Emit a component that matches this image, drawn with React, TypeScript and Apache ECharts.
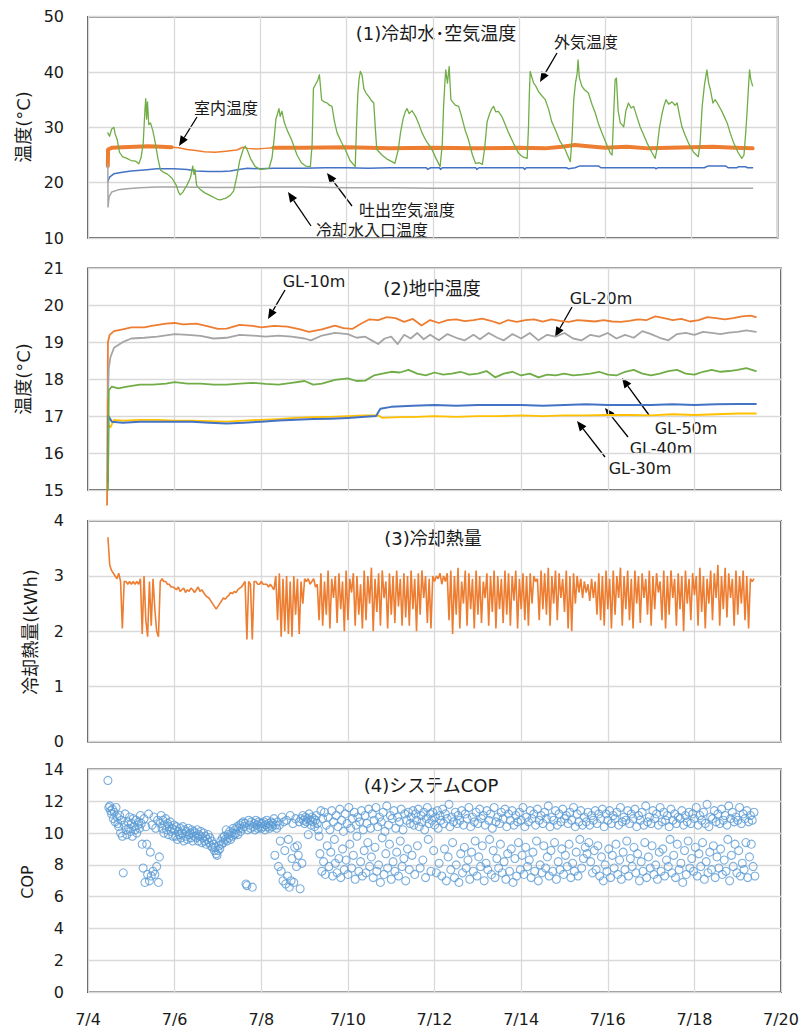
import React, { useEffect, useRef } from "react";
import * as echarts from "echarts";

// ---------- DATA (time = days since 7/4 0:00) ----------
const xTickStartDay = 4; // label = 7/(4 + value)

// Panel 1: 冷却水・空気温度
const outdoorTemp: [number, number][] = [
  [0.46, 29.0], [0.5, 28.4], [0.55, 29.7], [0.6, 30.0], [0.63, 28.8], [0.68, 27.7], [0.73, 25.5], [0.8, 24.7],
  [0.9, 24.4], [1.0, 24.0], [1.1, 23.9], [1.18, 23.4], [1.23, 24.5], [1.28, 27.0], [1.32, 33.0], [1.34, 35.2],
  [1.36, 31.5], [1.38, 34.6], [1.41, 30.5], [1.45, 30.8], [1.5, 29.5], [1.55, 27.7], [1.62, 24.5], [1.68, 22.3],
  [1.75, 21.9], [1.85, 21.5], [1.95, 20.8], [2.05, 19.5], [2.1, 18.3], [2.14, 17.8], [2.2, 18.3], [2.3, 19.6],
  [2.38, 21.0], [2.43, 23.0], [2.46, 21.5], [2.48, 22.4], [2.52, 19.5], [2.6, 18.8], [2.7, 18.2], [2.85, 17.6],
  [3.0, 17.0], [3.07, 16.9], [3.2, 17.2], [3.3, 17.7], [3.38, 18.5], [3.45, 21.0], [3.52, 24.0], [3.6, 26.0],
  [3.65, 26.6], [3.7, 25.8], [3.78, 24.2], [3.88, 22.9], [4.0, 22.4], [4.1, 22.5], [4.2, 22.6], [4.27, 24.5],
  [4.32, 28.0], [4.36, 31.5], [4.4, 32.5], [4.43, 33.4], [4.46, 32.0], [4.5, 32.9], [4.55, 31.0], [4.62, 29.5],
  [4.72, 27.8], [4.85, 25.0], [4.95, 23.6], [5.05, 23.0], [5.16, 22.9], [5.2, 27.0], [5.23, 37.0], [5.28, 37.8],
  [5.33, 38.5], [5.37, 39.5], [5.42, 35.0], [5.48, 34.6], [5.55, 34.4], [5.6, 34.0], [5.66, 33.8], [5.72, 31.0],
  [5.78, 29.0], [5.88, 27.3], [5.97, 26.0], [6.08, 24.0], [6.2, 22.9], [6.23, 30.0], [6.26, 36.0], [6.29, 38.8],
  [6.32, 40.1], [6.36, 39.4], [6.4, 37.0], [6.45, 36.2], [6.52, 35.5], [6.58, 34.8], [6.63, 34.4], [6.67, 29.5],
  [6.7, 26.0], [6.82, 25.0], [6.95, 24.2], [7.05, 23.8], [7.12, 23.5], [7.2, 26.0], [7.25, 29.0], [7.31, 31.5],
  [7.36, 32.8], [7.4, 33.4], [7.45, 32.5], [7.52, 33.0], [7.6, 32.0], [7.68, 30.5], [7.75, 29.0], [7.85, 27.5],
  [7.98, 26.0], [8.08, 24.3], [8.17, 22.9], [8.22, 27.0], [8.25, 33.8], [8.28, 38.0], [8.3, 40.4], [8.34, 38.0],
  [8.38, 41.0], [8.42, 35.0], [8.47, 34.5], [8.52, 34.0], [8.6, 33.8], [8.66, 32.2], [8.75, 29.5], [8.83, 27.7],
  [8.92, 25.0], [8.99, 23.5], [9.08, 23.6], [9.15, 23.3], [9.2, 26.0], [9.26, 31.0], [9.32, 32.5], [9.37, 33.4],
  [9.41, 33.8], [9.46, 32.8], [9.52, 32.9], [9.6, 32.0], [9.68, 30.5], [9.76, 29.0], [9.88, 27.0], [9.99, 25.3],
  [10.1, 24.6], [10.19, 24.4], [10.22, 30.0], [10.24, 36.0], [10.26, 40.1], [10.3, 39.0], [10.34, 38.0], [10.38, 37.6],
  [10.45, 36.5], [10.52, 35.8], [10.61, 35.0], [10.69, 33.2], [10.76, 31.0], [10.84, 29.6], [10.95, 27.5], [11.07, 26.0],
  [11.19, 23.8], [11.23, 28.0], [11.27, 35.0], [11.31, 38.0], [11.35, 39.8], [11.37, 42.2], [11.4, 39.0], [11.46, 37.4],
  [11.52, 36.8], [11.61, 36.2], [11.7, 34.0], [11.77, 32.6], [11.85, 30.5], [11.93, 28.9], [12.03, 27.0], [12.12, 25.3],
  [12.16, 25.0], [12.2, 33.0], [12.23, 38.6], [12.26, 38.9], [12.3, 33.0], [12.35, 30.8], [12.43, 30.1], [12.48, 33.0],
  [12.54, 34.4], [12.6, 33.5], [12.66, 33.8], [12.74, 31.8], [12.81, 30.1], [12.9, 28.5], [12.97, 27.2], [13.08, 25.5],
  [13.16, 24.4], [13.2, 26.0], [13.26, 30.0], [13.32, 32.5], [13.36, 33.8], [13.41, 35.0], [13.47, 34.2], [13.55, 34.6],
  [13.62, 34.0], [13.67, 34.4], [13.73, 32.0], [13.78, 30.1], [13.86, 28.5], [13.93, 27.2], [14.05, 25.5], [14.16, 24.7],
  [14.2, 27.0], [14.25, 33.8], [14.3, 37.5], [14.33, 39.0], [14.36, 40.4], [14.4, 38.0], [14.44, 36.8], [14.5, 34.4],
  [14.55, 35.0], [14.6, 34.4], [14.7, 33.0], [14.77, 31.8], [14.83, 30.8], [14.9, 29.0], [14.98, 27.2], [15.08, 25.5],
  [15.17, 24.4], [15.22, 25.0], [15.26, 29.0], [15.29, 32.6], [15.33, 38.0], [15.35, 40.4], [15.37, 39.0], [15.39, 38.3],
  [15.42, 37.5],
];

const indoorTempNoisyA: [number, number][] = [
  [0.46, 23.0], [0.465, 26.0], [0.55, 26.3], [0.8, 26.4], [1.1, 26.5], [1.4, 26.6], [1.7, 26.5], [1.94, 26.4],
];
const indoorTempSmooth: [number, number][] = [
  [1.94, 26.4], [2.1, 26.3], [2.3, 26.0], [2.5, 25.8], [2.7, 25.6], [2.95, 25.5], [3.2, 25.7], [3.45, 25.9],
  [3.6, 26.4], [3.7, 26.2], [3.9, 26.1], [4.1, 26.2], [4.3, 26.3],
];
const indoorTempNoisyB: [number, number][] = [
  [4.3, 26.3], [5.0, 26.3], [6.0, 26.4], [7.0, 26.2], [8.0, 26.3], [9.0, 26.2], [10.0, 26.3], [10.6, 26.2],
  [11.0, 26.5], [11.3, 26.8], [11.6, 26.6], [12.0, 26.3], [12.5, 26.5], [13.0, 26.2], [14.0, 26.4], [14.5, 26.5],
  [15.0, 26.3], [15.42, 26.2],
];
const dischargeAirTemp: [number, number][] = [
  [0.46, 20.2], [0.5, 21.0], [0.6, 21.6], [0.8, 21.9], [1.0, 22.1], [1.3, 22.3], [1.6, 22.5], [2.0, 22.5],
  [2.3, 22.4], [2.5, 22.1], [2.8, 22.0], [3.1, 22.0], [3.3, 22.1], [3.5, 22.4], [3.7, 22.6], [4.0, 22.5],
  [4.3, 22.6], [5.0, 22.6], [5.5, 22.7], [6.0, 22.7], [6.5, 22.6], [7.0, 22.7], [7.85, 22.7], [7.88, 22.4],
  [7.95, 22.7], [8.15, 22.7], [8.18, 22.4], [8.22, 22.7], [9.0, 22.7], [9.02, 22.4], [9.07, 22.7], [10.1, 22.7],
  [10.13, 22.4], [10.17, 22.7], [11.1, 22.7], [11.15, 22.5], [11.3, 22.7], [11.4, 23.0], [11.85, 23.0], [11.9, 22.7],
  [13.15, 22.7], [13.18, 22.5], [13.22, 22.7], [14.3, 22.7], [14.38, 23.0], [14.8, 23.0], [14.85, 22.7], [15.05, 22.7],
  [15.1, 22.9], [15.25, 22.9], [15.3, 22.7], [15.42, 22.7],
];
const coolingWaterInletTemp: [number, number][] = [
  [0.46, 23.3], [0.465, 15.6], [0.49, 17.5], [0.55, 18.3], [0.7, 18.7], [0.9, 18.9], [1.2, 19.1], [1.6, 19.2],
  [2.0, 19.2], [3.0, 19.15], [4.0, 19.2], [5.0, 19.2], [6.0, 19.1], [7.0, 19.1], [8.0, 19.0], [9.0, 19.0],
  [10.0, 19.0], [11.0, 19.0], [12.0, 19.0], [13.0, 19.0], [14.0, 19.0], [15.0, 19.0], [15.42, 19.0],
];

// Panel 2: 地中温度
const gl10m: [number, number][] = [
  [0.44, 14.6], [0.46, 19.0], [0.5, 19.2], [0.6, 19.3], [0.8, 19.35], [1.0, 19.4], [1.3, 19.4], [1.5, 19.45],
  [1.8, 19.5], [2.0, 19.52], [2.2, 19.48], [2.5, 19.5], [2.8, 19.42], [3.0, 19.36], [3.2, 19.37], [3.5, 19.47],
  [3.8, 19.44], [4.0, 19.4], [4.3, 19.44], [4.6, 19.42], [4.9, 19.35], [5.1, 19.28], [5.4, 19.35], [5.7, 19.45],
  [5.9, 19.38], [6.1, 19.36], [6.3, 19.5], [6.5, 19.62], [6.7, 19.6], [6.9, 19.68], [7.1, 19.65], [7.3, 19.55],
  [7.5, 19.63], [7.7, 19.45], [7.9, 19.6], [8.1, 19.52], [8.3, 19.6], [8.5, 19.62], [8.7, 19.57], [8.9, 19.6],
  [9.1, 19.64], [9.3, 19.58], [9.5, 19.5], [9.7, 19.6], [9.9, 19.55], [10.1, 19.6], [10.3, 19.62], [10.5, 19.56],
  [10.7, 19.62], [10.9, 19.58], [11.1, 19.55], [11.3, 19.6], [11.5, 19.58], [11.7, 19.56], [11.9, 19.6], [12.1, 19.56],
  [12.3, 19.55], [12.5, 19.58], [12.7, 19.62], [12.9, 19.6], [13.1, 19.7], [13.3, 19.65], [13.5, 19.6], [13.7, 19.63],
  [13.9, 19.56], [14.1, 19.6], [14.3, 19.68], [14.5, 19.65], [14.7, 19.62], [14.9, 19.65], [15.1, 19.7], [15.3, 19.72],
  [15.42, 19.68],
];
const gl20m: [number, number][] = [
  [0.46, 17.5], [0.48, 18.3], [0.52, 18.6], [0.6, 18.85], [0.8, 19.0], [1.0, 19.1], [1.3, 19.12], [1.6, 19.15],
  [2.0, 19.22], [2.3, 19.2], [2.6, 19.17], [2.9, 19.1], [3.2, 19.12], [3.5, 19.2], [3.8, 19.18], [4.1, 19.15],
  [4.4, 19.18], [4.7, 19.15], [5.0, 19.1], [5.15, 19.05], [5.4, 19.18], [5.7, 19.25], [6.0, 19.22], [6.2, 19.12],
  [6.4, 19.15], [6.55, 19.05], [6.7, 18.95], [6.85, 19.1], [7.0, 19.15], [7.15, 18.95], [7.3, 19.2], [7.45, 19.1],
  [7.6, 19.25], [7.75, 19.08], [7.9, 19.2], [8.1, 19.05], [8.3, 19.22], [8.5, 19.12], [8.7, 19.05], [8.9, 19.2],
  [9.05, 19.08], [9.25, 19.25], [9.45, 19.12], [9.6, 19.05], [9.8, 19.22], [10.0, 19.1], [10.2, 19.25], [10.4, 19.05],
  [10.6, 19.2], [10.8, 19.15], [11.0, 19.25], [11.2, 19.1], [11.4, 19.05], [11.6, 19.2], [11.8, 19.15], [12.0, 19.25],
  [12.2, 19.1], [12.4, 19.2], [12.6, 19.12], [12.8, 19.3], [13.0, 19.22], [13.2, 19.12], [13.4, 19.05], [13.6, 19.22],
  [13.8, 19.25], [14.0, 19.2], [14.2, 19.28], [14.4, 19.25], [14.6, 19.22], [14.8, 19.26], [15.0, 19.28], [15.2, 19.32],
  [15.42, 19.28],
];
const gl30m: [number, number][] = [
  [0.46, 16.6], [0.48, 16.75], [0.52, 16.7], [0.6, 16.9], [0.8, 16.88], [1.2, 16.9], [1.6, 16.9], [2.0, 16.88],
  [2.4, 16.88], [2.8, 16.86], [3.2, 16.85], [3.6, 16.88], [4.0, 16.9], [4.4, 16.92], [4.8, 16.95], [5.2, 16.97],
  [5.6, 16.98], [6.0, 17.0], [6.4, 17.02], [6.7, 17.02], [6.8, 16.95], [7.2, 16.97], [7.6, 16.98], [8.0, 17.0],
  [8.5, 16.98], [9.0, 17.0], [9.5, 17.0], [10.0, 17.02], [10.5, 17.0], [11.0, 17.02], [11.5, 17.02], [12.0, 17.03],
  [12.5, 17.03], [13.0, 17.02], [13.5, 17.05], [14.0, 17.03], [14.5, 17.05], [15.0, 17.07], [15.42, 17.07],
];
const gl40m: [number, number][] = [
  [0.46, 15.2], [0.47, 17.0], [0.55, 16.85], [0.8, 16.82], [1.2, 16.85], [1.6, 16.85], [2.0, 16.85], [2.4, 16.85],
  [2.8, 16.82], [3.2, 16.8], [3.6, 16.82], [4.0, 16.85], [4.4, 16.88], [4.8, 16.9], [5.2, 16.92], [5.6, 16.93],
  [6.0, 16.95], [6.4, 16.98], [6.65, 17.0], [6.75, 17.2], [7.0, 17.25], [7.5, 17.28], [8.0, 17.3], [8.5, 17.28],
  [9.0, 17.3], [9.5, 17.3], [10.0, 17.3], [10.5, 17.28], [11.0, 17.3], [11.5, 17.32], [12.0, 17.3], [12.5, 17.3],
  [13.0, 17.3], [13.5, 17.32], [14.0, 17.3], [14.5, 17.32], [15.0, 17.33], [15.42, 17.33],
];
const gl50m: [number, number][] = [
  [0.46, 15.0], [0.48, 17.7], [0.55, 17.8], [0.7, 17.75], [0.9, 17.8], [1.2, 17.85], [1.5, 17.85], [1.8, 17.88],
  [2.0, 17.92], [2.3, 17.88], [2.6, 17.88], [2.9, 17.85], [3.2, 17.85], [3.5, 17.88], [3.8, 17.9], [4.1, 17.87],
  [4.4, 17.85], [4.7, 17.9], [5.0, 17.95], [5.2, 17.85], [5.4, 17.88], [5.7, 17.98], [6.0, 18.02], [6.2, 17.95],
  [6.4, 17.96], [6.6, 18.1], [6.8, 18.15], [7.0, 18.2], [7.2, 18.18], [7.4, 18.25], [7.6, 18.15], [7.8, 18.1],
  [8.0, 18.18], [8.2, 18.12], [8.4, 18.15], [8.6, 18.2], [8.8, 18.12], [9.0, 18.15], [9.2, 18.22], [9.4, 18.05],
  [9.6, 18.15], [9.8, 18.2], [10.0, 18.1], [10.2, 18.15], [10.4, 18.05], [10.6, 18.12], [10.8, 18.1], [11.0, 18.15],
  [11.2, 18.1], [11.4, 18.12], [11.6, 18.15], [11.8, 18.2], [12.0, 18.12], [12.2, 18.1], [12.4, 18.2], [12.6, 18.25],
  [12.8, 18.15], [13.0, 18.1], [13.2, 18.15], [13.4, 18.22], [13.6, 18.25], [13.8, 18.15], [14.0, 18.12], [14.2, 18.2],
  [14.4, 18.25], [14.6, 18.2], [14.8, 18.22], [15.0, 18.25], [15.2, 18.3], [15.42, 18.22],
];

// Panel 3: 冷却熱量 (hourly from 7/4 11:00)
const heatStart = 0.46;
const heatStepDays = 1 / 24;
const coolingHeat: number[] = [
  3.7, 3.2, 3.1, 3.05, 3.0, 2.95, 3.05, 2.9, 2.05, 2.9, 2.9, 2.85, 2.9, 2.85, 2.9, 2.85, 2.9, 2.85, 2.95, 1.95,
  3.0, 2.2, 1.9, 2.9, 2.1, 2.95, 2.4, 2.0, 1.9, 2.9, 2.95, 2.9, 2.9, 2.85, 2.85, 2.8, 2.8,
  2.78, 2.75, 2.8, 2.72, 2.75, 2.78, 2.7, 2.75, 2.72, 2.78, 2.75, 2.7, 2.75, 2.8, 2.72, 2.75, 2.7, 2.65, 2.62, 2.6,
  2.55, 2.5, 2.45, 2.4, 2.45, 2.5, 2.55, 2.6, 2.58, 2.62, 2.65, 2.7, 2.68, 2.72, 2.7, 2.75, 2.78, 2.8, 2.85, 2.9,
  1.85, 2.9, 2.85, 1.85, 2.9, 2.9, 2.85, 2.85, 2.9, 2.85, 2.85, 2.85, 2.8, 2.85, 2.8, 2.75,
  3.0, 2.2, 3.05, 1.9, 2.95, 2.0, 3.0, 1.95, 2.9, 1.9, 3.0, 2.3, 2.95, 1.95, 2.9, 2.5,
  2.95, 2.9, 2.95, 2.85, 2.9, 2.95, 2.8, 2.85, 2.2,
  3.05, 2.1, 2.9, 2.3, 3.1, 2.05, 2.95, 2.6, 3.0, 2.15, 3.05, 2.4, 2.9, 2.0, 3.1, 2.2, 2.95, 2.7, 3.05, 2.1, 3.0, 2.3, 2.85, 2.05,
  3.1, 2.2, 3.0, 2.5, 3.15, 2.0, 2.95, 2.35, 3.05, 2.1, 3.1, 2.6, 2.9, 2.05, 3.05, 2.3, 3.0, 2.15, 3.1, 2.45, 2.95, 2.1, 3.05, 2.25,
  3.0, 2.1, 3.1, 2.4, 2.95, 2.0, 3.05, 2.3, 3.1, 2.6, 3.0, 2.15, 2.95, 2.05, 3.0, 2.9, 3.0, 2.95, 3.05, 2.85, 3.0, 2.9, 3.05, 2.2,
  3.1, 1.95, 3.0, 2.3, 3.15, 2.05, 2.9, 2.5, 3.1, 2.1, 3.05, 2.4, 2.95, 2.05, 3.1, 2.3, 3.0, 2.15, 2.9, 2.6, 3.05, 2.1, 3.0, 2.35,
  3.1, 2.05, 3.0, 2.4, 2.95, 2.15, 3.1, 2.3, 3.05, 2.1, 3.0, 2.55, 3.1, 2.05, 2.95, 2.4, 3.05, 2.2, 3.0, 2.1, 3.05, 2.5, 3.0, 2.9,
  2.95, 2.2, 3.1, 2.4, 3.05, 2.3, 3.15, 2.1, 3.0, 2.5, 3.1, 2.2, 3.05, 2.6, 2.95, 2.35, 3.1, 2.05, 3.0, 2.0, 3.05, 2.5, 3.0, 2.7,
  2.95, 2.6, 2.9, 2.7, 2.85, 2.55, 2.95, 2.6, 2.9, 2.3, 3.05, 2.2, 3.0, 2.1, 3.1, 2.4, 2.95, 2.05, 3.1, 2.3, 3.0, 2.6, 3.15, 2.1,
  3.0, 2.4, 3.1, 2.2, 2.95, 2.05, 3.1, 2.5, 3.0, 2.15, 3.05, 2.6, 2.95, 2.3, 3.1, 2.1, 3.0, 2.4, 3.05, 2.7, 2.9, 2.2, 3.1, 2.05,
  3.0, 2.3, 3.1, 2.6, 2.95, 2.1, 3.05, 2.4, 3.0, 2.0, 3.1, 2.5, 2.95, 2.2, 3.05, 2.65, 3.0, 2.1, 3.15, 2.35, 3.0, 2.05, 2.95, 2.5,
  3.1, 2.2, 3.05, 2.6, 3.2, 2.1, 3.0, 2.4, 3.15, 2.25, 3.05, 2.6, 2.95, 2.1, 3.1, 2.3, 3.0, 2.5, 3.1, 2.2, 3.0, 2.05, 2.95, 2.9,
  2.95,
];

// Panel 4: システムCOP (half-hourly from 7/4 11:00)
const copStart = 0.46;
const copStepDays = 1 / 48;
const copValues: number[] = [
  13.3, 11.6, 11.7, 11.4, 11.2, 11.5, 10.9, 11.3, 10.7, 11.6, 11.0, 10.6, 10.4, 11.1, 10.0, 10.8, 9.8, 7.5, 10.5, 11.2, 10.2, 9.9, 10.7, 10.3,
  11.0, 10.1, 10.6, 9.8, 10.9, 10.4, 10.2, 10.8, 10.0, 10.5, 10.7, 10.3, 11.1, 10.6, 9.3, 7.8, 10.9, 6.9, 10.4, 9.3, 7.4, 11.2, 7.0, 8.8,
  7.3, 10.5, 7.6, 11.0, 7.4, 10.3, 7.9, 10.8, 6.9, 8.5, 10.6, 11.1, 10.3, 10.8, 10.0, 10.5, 10.9, 10.2, 10.6, 9.9, 10.4, 10.7, 10.1, 10.3,
  9.8, 10.5, 10.2, 9.8, 10.4, 9.6, 10.1, 9.9, 10.3, 9.7, 10.0, 10.4, 9.5, 10.2, 9.8, 10.1, 9.6, 10.3, 9.9, 10.0, 9.7, 10.2, 9.5, 10.1,
  9.8, 10.0, 9.7, 10.2, 9.5, 9.9, 9.8, 10.1, 9.4, 9.7, 10.0, 9.5, 9.8, 9.3, 9.6, 9.9, 9.4, 9.7, 9.2, 9.5, 9.1, 9.3, 8.9, 9.1,
  8.7, 8.6, 8.9, 9.2, 9.0, 9.5, 9.3, 9.7, 9.4, 9.8, 9.6, 10.2, 9.5, 9.9, 9.7, 10.1, 9.6, 10.0, 9.8, 10.3, 9.9, 10.2, 10.0, 10.4,
  9.9, 10.3, 10.5, 10.1, 10.6, 10.3, 10.7, 10.4, 10.6, 6.8, 6.7, 10.2, 10.8, 10.5, 10.3, 10.7, 6.6, 10.4, 10.6, 10.2, 10.8, 10.5, 10.3, 10.7,
  10.4, 10.6, 10.3, 10.6, 10.4, 10.7, 10.2, 10.5, 10.8, 10.4, 10.6, 10.3, 10.5, 10.7, 10.4, 10.6, 10.9, 8.6, 10.5, 10.3, 10.7, 7.9, 10.5, 9.5,
  7.6, 11.0, 7.0, 10.7, 8.9, 6.8, 10.8, 7.3, 9.6, 6.6, 11.1, 7.0, 8.4, 10.6, 6.9, 9.1, 10.9, 7.9, 9.2, 8.6, 10.7, 6.5, 10.9, 8.1,
  11.1, 10.8, 10.6, 11.0, 10.7, 10.9, 9.9, 11.2, 10.8, 10.5, 11.0, 10.7, 10.9, 10.4, 10.8, 11.1, 10.6, 10.2, 9.8, 8.7, 11.4, 7.6, 10.9, 8.2,
  11.3, 7.4, 10.5, 9.2, 11.0, 7.9, 10.2, 8.8, 11.4, 7.3, 10.7, 9.6, 8.1, 11.1, 7.5, 10.4, 8.4, 11.5, 7.2, 10.8, 9.0, 10.1, 7.7, 11.2,
  8.3, 10.6, 7.4, 11.6, 9.3, 10.3, 7.8, 10.9, 8.6, 11.3, 7.1, 10.5, 9.8, 11.0, 7.6, 10.7, 8.2, 11.4, 7.3, 10.2, 8.9, 11.1, 7.5, 10.6,
  9.4, 11.5, 7.9, 10.3, 8.5, 11.2, 7.2, 10.8, 9.1, 11.6, 7.6, 10.4, 8.0, 11.0, 6.9, 10.7, 9.7, 11.3, 7.4, 10.1, 8.7, 11.7, 7.8, 10.5,
  9.3, 11.1, 7.1, 10.9, 8.2, 11.4, 7.6, 10.3, 8.8, 11.0, 7.3, 10.7, 9.5, 11.5, 7.9, 10.2, 8.4, 11.2, 7.0, 10.8, 9.0, 11.3, 7.7, 10.6,
  11.0, 8.6, 11.4, 10.5, 7.4, 11.2, 10.8, 9.2, 11.5, 10.4, 7.8, 11.1, 10.7, 8.3, 11.3, 10.2, 7.2, 10.9, 11.6, 9.6, 10.6, 11.2, 7.6, 10.8,
  11.3, 8.9, 10.5, 11.0, 7.5, 11.4, 10.3, 8.1, 11.1, 10.8, 7.3, 11.5, 10.6, 9.0, 11.2, 7.0, 10.9, 8.5, 11.8, 10.4, 7.7, 11.0, 9.4, 10.7,
  7.2, 11.3, 8.0, 10.6, 11.1, 6.9, 10.8, 8.7, 11.4, 7.5, 10.5, 9.1, 11.2, 7.8, 10.9, 8.3, 11.6, 7.1, 10.4, 8.8, 11.0, 7.6, 10.7, 9.5,
  11.3, 7.3, 10.6, 8.5, 11.5, 7.9, 10.9, 9.2, 11.1, 7.0, 10.5, 8.1, 11.4, 7.7, 10.8, 9.6, 11.2, 7.4, 10.3, 8.9, 11.6, 7.2, 10.7, 8.4,
  11.0, 7.8, 10.6, 9.3, 11.3, 7.5, 10.9, 8.2, 11.5, 7.1, 10.4, 8.7, 11.2, 7.6, 10.8, 9.0, 11.4, 6.9, 10.5, 8.4, 11.1, 7.3, 10.7, 9.4,
  11.3, 7.7, 10.8, 8.6, 11.6, 7.4, 10.4, 9.1, 11.0, 7.9, 10.7, 8.3, 11.4, 7.2, 10.9, 8.8, 11.2, 7.6, 10.5, 9.5, 11.5, 7.0, 10.8, 8.0,
  11.1, 7.5, 10.6, 9.2, 11.3, 7.8, 10.9, 8.5, 11.7, 7.3, 10.4, 8.9, 11.0, 7.6, 10.8, 9.4, 11.4, 7.1, 10.5, 8.2, 11.2, 7.7, 10.7, 9.0,
  11.5, 7.4, 10.9, 8.6, 11.1, 7.9, 10.6, 9.3, 11.3, 7.2, 10.8, 8.1, 11.6, 7.6, 10.4, 8.8, 11.2, 7.3, 10.7, 9.6, 11.4, 7.8, 10.5, 8.4,
  11.0, 9.1, 10.7, 8.7, 11.3, 9.4, 10.5, 8.2, 11.1, 7.5, 10.8, 8.9, 11.4, 7.7, 10.6, 9.2, 11.2, 7.3, 10.9, 8.5, 11.5, 7.0, 10.4, 8.0,
  11.2, 7.6, 10.8, 9.0, 11.4, 7.2, 10.6, 8.6, 11.1, 7.8, 10.9, 9.3, 11.3, 7.4, 10.5, 8.3, 11.6, 7.1, 10.7, 8.8, 11.0, 7.7, 10.8, 9.5,
  11.4, 7.3, 10.6, 8.4, 11.2, 7.9, 10.9, 9.1, 11.5, 7.5, 10.4, 8.7, 11.1, 7.0, 10.8, 8.2, 11.3, 7.6, 10.5, 9.4, 11.7, 7.2, 10.7, 8.5,
  11.0, 7.8, 10.6, 9.2, 11.4, 7.4, 10.9, 8.0, 11.2, 7.1, 10.5, 8.8, 11.6, 7.6, 10.7, 9.0, 11.3, 7.3, 10.8, 8.3, 11.1, 7.9, 10.4, 9.6,
  11.5, 7.5, 10.8, 8.6, 11.2, 7.2, 10.6, 9.3, 11.0, 7.7, 10.9, 8.1, 11.4, 6.9, 10.5, 8.9, 11.1, 7.4, 10.7, 9.5, 11.3, 7.8, 10.6, 8.4,
  11.2, 7.6, 10.9, 9.1, 11.6, 7.3, 10.5, 8.7, 11.1, 7.9, 10.8, 9.4, 11.3, 7.1, 10.6, 8.2, 11.8, 7.5, 10.4, 8.8, 11.0, 7.7, 10.9, 9.2,
  11.4, 7.2, 10.7, 8.5, 11.2, 7.8, 10.6, 9.0, 11.5, 7.4, 10.8, 8.3, 11.1, 7.6, 10.5, 9.6, 11.7, 7.0, 10.9, 8.6, 11.3, 7.9, 10.7, 9.3,
  11.0, 7.5, 10.8, 8.9, 11.6, 7.3, 10.6, 8.1, 11.2, 7.7, 10.9, 9.4, 11.4, 7.2, 10.7, 8.5, 11.1, 9.3, 10.8, 7.9, 11.3, 7.3,
];

// ---------- STYLE ----------
const FONT = "'DejaVu Sans', 'Noto Sans CJK JP', sans-serif";
const TXT = "#1a1a1a";
const GRID_LINE = "#d9d9d9";
const C_ORANGE = "#ed7d31";
const C_BLUE = "#4472c4";
const C_GRAY = "#a5a5a5";
const C_GREEN = "#70ad47";
const C_YELLOW = "#ffc000";
const C_COP = "#5b9bd5";

function arrow(x1: number, y1: number, x2: number, y2: number) {
  const a = Math.atan2(y2 - y1, x2 - x1);
  const L = 10, W = 4.2;
  const bx = x2 - L * Math.cos(a), by = y2 - L * Math.sin(a);
  const px = -Math.sin(a) * W, py = Math.cos(a) * W;
  return [
    { type: "line", silent: true, shape: { x1, y1, x2: bx, y2: by }, style: { stroke: "#000", lineWidth: 1.3 } },
    { type: "polygon", silent: true, shape: { points: [[x2, y2], [bx + px, by + py], [bx - px, by - py]] }, style: { fill: "#000" } },
  ];
}

function label(text: string, x: number, y: number, size = 16) {
  return {
    type: "text", silent: true, x, y,
    style: { text, fontSize: size, fontFamily: FONT, fill: TXT, align: "center", verticalAlign: "middle" },
  };
}

function vLabel(text: string, x: number, y: number, size = 18) {
  return {
    type: "text", silent: true, x, y, rotation: Math.PI / 2,
    style: { text, fontSize: size, fontFamily: FONT, fill: TXT, align: "center", verticalAlign: "middle" },
  };
}

export default function App() {
  const ref = useRef<HTMLDivElement>(null);

  useEffect(() => {
    if (!ref.current) return;
    const chart = echarts.init(ref.current, null, { renderer: "svg" });

    const gridDefs = [
      { left: 88, top: 16.7, width: 689.6, height: 221.3 },
      { left: 88, top: 268.3, width: 693, height: 221.7 },
      { left: 88, top: 520.7, width: 693, height: 221 },
      { left: 88, top: 769.3, width: 693, height: 223 },
    ];
    const yDefs = [
      { min: 10, max: 50, interval: 10 },
      { min: 15, max: 21, interval: 1 },
      { min: 0, max: 4, interval: 1 },
      { min: 0, max: 14, interval: 2 },
    ];

    const line = (k: number, data: [number, number][], color: string, width: number, extra: any = {}) => ({
      type: "line", xAxisIndex: k, yAxisIndex: k, data, showSymbol: false, symbol: "none",
      lineStyle: { color, width, join: "round", cap: "round" }, silent: true, animation: false, ...extra,
    });

    const option: any = {
      animation: false,
      backgroundColor: "#ffffff",
      grid: gridDefs.map((g) => ({
        ...g, show: true, borderColor: "#262626", borderWidth: 1.5, backgroundColor: "transparent",
        containLabel: false, outerBoundsMode: "none",
      })),
      xAxis: gridDefs.map((_, k) => ({
        type: "value", gridIndex: k, min: 0, max: 16, interval: 2,
        axisLine: { show: false }, axisTick: { show: false },
        splitLine: { show: true, lineStyle: { color: GRID_LINE, width: 1.3 } },
        axisLabel: {
          show: k === 3, margin: 19, fontSize: 16, fontFamily: FONT, color: TXT,
          formatter: (v: number) => `7/${xTickStartDay + v}`,
        },
      })),
      yAxis: yDefs.map((d, k) => ({
        type: "value", gridIndex: k, ...d,
        axisLine: { show: false }, axisTick: { show: false },
        splitLine: { show: true, lineStyle: { color: GRID_LINE, width: 1.3 } },
        axisLabel: { margin: 24, fontSize: 16, fontFamily: FONT, color: TXT },
      })),
      series: [
        line(0, indoorTempNoisyA, C_ORANGE, 4),
        line(0, indoorTempSmooth, C_ORANGE, 1.5),
        line(0, indoorTempNoisyB, C_ORANGE, 4),
        line(0, dischargeAirTemp, C_BLUE, 1.5),
        line(0, coolingWaterInletTemp, C_GRAY, 1.5),
        line(0, outdoorTemp, C_GREEN, 1.3),
        line(1, gl10m, C_ORANGE, 1.8, { clip: false }),
        line(1, gl20m, C_GRAY, 1.8),
        line(1, gl30m, C_YELLOW, 1.8),
        line(1, gl40m, C_BLUE, 2),
        line(1, gl50m, C_GREEN, 1.8),
        line(2, coolingHeat.map((v, i) => [heatStart + i * heatStepDays, v] as [number, number]), C_ORANGE, 1.6, {
          lineStyle: { color: C_ORANGE, width: 1.6, join: "bevel" },
        }),
        {
          type: "scatter", xAxisIndex: 3, yAxisIndex: 3, silent: true,
          data: copValues.map((v, i) => [copStart + i * copStepDays, v]),
          symbol: "circle", symbolSize: 8,
          itemStyle: { color: "rgba(255,255,255,0)", borderColor: C_COP, borderWidth: 1.1 },
        },
      ],
      graphic: [
        // panel titles
        label("(1)冷却水･空気温度", 436, 33, 18),
        label("(2)地中温度", 432, 288, 18),
        label("(3)冷却熱量", 433, 538, 18),
        label("(4)システムCOP", 431, 785, 18),
        // axis titles
        vLabel("温度(°C)", 23, 127),
        vLabel("温度(°C)", 23, 379),
        vLabel("冷却熱量(kWh)", 30, 632),
        vLabel("COP", 27, 882, 16),
        // panel 1 annotations
        label("外気温度", 586, 42),
        ...arrow(557, 53, 540, 82),
        label("室内温度", 226, 108),
        ...arrow(197, 117, 179, 146),
        label("吐出空気温度", 407, 210),
        ...arrow(352, 206, 327, 173),
        label("冷却水入口温度", 372, 230),
        ...arrow(311, 226, 288, 192),
        // panel 2 annotations
        label("GL-10m", 314, 281),
        ...arrow(285, 290, 268, 319),
        label("GL-20m", 601, 298),
        ...arrow(572, 307, 555, 337),
        label("GL-50m", 686, 428),
        ...arrow(649, 415, 622, 378),
        label("GL-40m", 661, 448),
        ...arrow(628, 437, 605, 408),
        label("GL-30m", 640, 468),
        ...arrow(605, 457, 577, 421),
      ],
    };

    chart.setOption(option);
    return () => chart.dispose();
  }, []);

  return (
    <div
      ref={ref}
      style={{ position: "absolute", left: 0, top: 0, width: 800, height: 1028, background: "#fff" }}
    />
  );
}
